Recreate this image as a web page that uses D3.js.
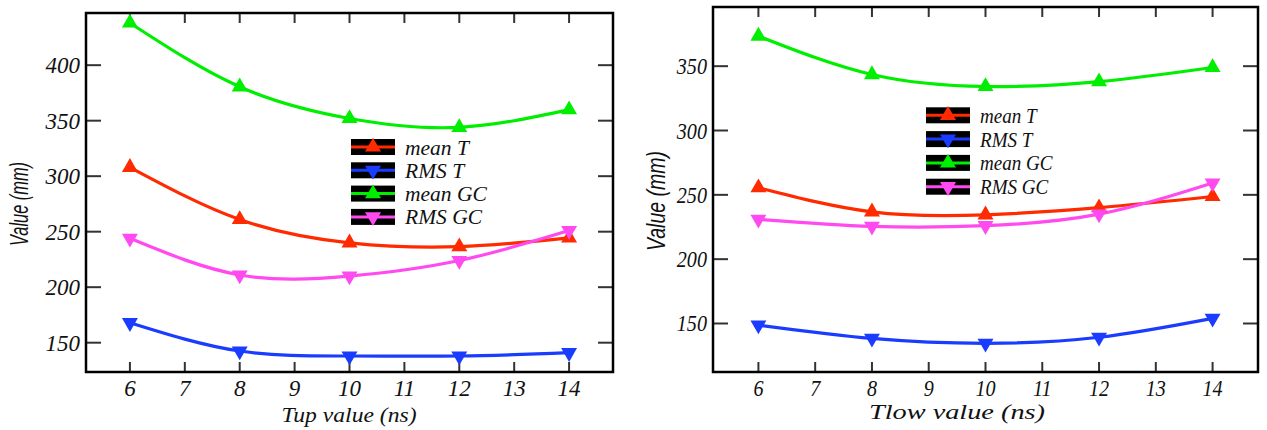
<!DOCTYPE html>
<html>
<head>
<meta charset="utf-8">
<script src="https://cdn.jsdelivr.net/npm/d3@7"></script>
<style>
  html, body { margin: 0; padding: 0; background: #fff; }
  svg { display: block; }
  .serif { font-family: "Liberation Serif", "Times New Roman", "DejaVu Serif", serif; font-style: italic; }
  .sans { font-family: "Liberation Sans", "DejaVu Sans", Arial, sans-serif; font-style: italic; }
</style>
</head>
<body>
<svg id="chart" width="1267" height="430"></svg>
<script>
// ---------------- data ----------------
const xValues = [6, 8, 10, 12, 14];
const xTickLabels = [6, 7, 8, 9, 10, 11, 12, 13, 14];
const seriesNames = ["mean T", "RMS T", "mean GC", "RMS GC"];

// Left panel: Tup
const tupMeanT  = [308, 261, 240, 236.5, 244.5];
const tupRmsT   = [168, 142.5, 138, 138, 141];
const tupMeanGC = [438, 380.5, 352, 344, 360];
const tupRmsGC  = [244, 211, 210, 224, 251];
const tupYTicks = [150, 200, 250, 300, 350, 400];

// Right panel: Tlow
const tlowMeanT  = [255.6, 236.8, 234.5, 240, 248.7];
const tlowRmsT   = [148.8, 138.4, 134.6, 139.3, 154];
const tlowMeanGC = [373.4, 343.5, 334.2, 338, 349];
const tlowRmsGC  = [231, 225.5, 226, 235, 259.2];
const tlowYTicks = [150, 200, 250, 300, 350];

// ---------------- styles ----------------
const colors = ["#ff2a00", "#1a3cff", "#00ee00", "#ff4af0"];
const markerUp = [true, false, true, false];

const svg = d3.select("#chart");

const panels = [
  {
    left: 86, top: 13, right: 613, bottom: 372,
    yDomain: [123.6, 447], yTicks: tupYTicks,
    series: [tupMeanT, tupRmsT, tupMeanGC, tupRmsGC],
    xTitle: "Tup value (ns)", xTitleX: 349, xTitleY: 422, xTitleLen: 135,
    yTitleX: 19, yTitleY: 204, yTitleLen: 84,
    legendX: 351, legendY: 147, legendStep: 23.3,
    sx: 1, fs: 23, lfs: 21.5, lsx: 1
  },
  {
    left: 713, top: 7, right: 1258, bottom: 372,
    yDomain: [112.3, 396], yTicks: tlowYTicks,
    series: [tlowMeanT, tlowRmsT, tlowMeanGC, tlowRmsGC],
    xTitle: "Tlow value (ns)", xTitleX: 957, xTitleY: 419, xTitleLen: 176,
    yTitleX: 656, yTitleY: 201, yTitleLen: 100,
    legendX: 926, legendY: 115.3, legendStep: 23.8,
    sx: 0.84, fs: 24, lfs: 20.5, lsx: 0.93
  }
];

function stretchedText(g, x, y, str, opts) {
  return g.append("text")
    .attr("class", "serif")
    .attr("transform", `translate(${x},${y}) scale(${opts.sx},1)`)
    .style("font-size", opts.fs + "px")
    .attr("text-anchor", opts.anchor || "start")
    .attr("fill", "#111")
    .text(str);
}

panels.forEach(p => {
  const g = svg.append("g");
  const x = d3.scaleLinear().domain([5.2, 14.8]).range([p.left, p.right]);
  const y = d3.scaleLinear().domain(p.yDomain).range([p.bottom, p.top]);

  const tickColor = "#333";
  xTickLabels.forEach(v => {
    g.append("line").attr("x1", x(v)).attr("x2", x(v))
      .attr("y1", p.bottom).attr("y2", p.bottom - 10)
      .attr("stroke", tickColor).attr("stroke-width", 2);
    g.append("line").attr("x1", x(v)).attr("x2", x(v))
      .attr("y1", p.top).attr("y2", p.top + 10)
      .attr("stroke", tickColor).attr("stroke-width", 2);
    stretchedText(g, x(v), p.bottom + 24, String(v), {sx: p.sx, fs: p.fs, anchor: "middle"});
  });
  p.yTicks.forEach(v => {
    g.append("line").attr("x1", p.left).attr("x2", p.left + 15)
      .attr("y1", y(v)).attr("y2", y(v))
      .attr("stroke", tickColor).attr("stroke-width", 2);
    g.append("line").attr("x1", p.right).attr("x2", p.right - 15)
      .attr("y1", y(v)).attr("y2", y(v))
      .attr("stroke", tickColor).attr("stroke-width", 2);
    stretchedText(g, p.left - 6, y(v) + 8, String(v), {sx: p.sx, fs: p.fs, anchor: "end"});
  });

  g.append("rect")
    .attr("x", p.left).attr("y", p.top)
    .attr("width", p.right - p.left).attr("height", p.bottom - p.top)
    .attr("fill", "none").attr("stroke", "#000").attr("stroke-width", 2.5);

  const line = d3.line().x(d => x(d[0])).y(d => y(d[1])).curve(d3.curveNatural);
  p.series.forEach((vals, i) => {
    const pts = xValues.map((xv, j) => [xv, vals[j]]);
    g.append("path").datum(pts)
      .attr("d", line)
      .attr("fill", "none")
      .attr("stroke", colors[i])
      .attr("stroke-width", 3.2);
  });
  const sym = d3.symbol().type(d3.symbolTriangle).size(110);
  p.series.forEach((vals, i) => {
    xValues.forEach((xv, j) => {
      g.append("path")
        .attr("d", sym())
        .attr("transform", `translate(${x(xv)},${y(vals[j])}) rotate(${markerUp[i] ? 0 : 180})`)
        .attr("fill", colors[i]);
    });
  });

  seriesNames.forEach((name, i) => {
    const ly = p.legendY + i * p.legendStep;
    g.append("rect").attr("x", p.legendX).attr("y", ly - 8)
      .attr("width", 44).attr("height", 16).attr("fill", "#000");
    g.append("line").attr("x1", p.legendX).attr("x2", p.legendX + 44)
      .attr("y1", ly).attr("y2", ly)
      .attr("stroke", colors[i]).attr("stroke-width", 3);
    g.append("path")
      .attr("d", sym())
      .attr("transform", `translate(${p.legendX + 22},${ly}) rotate(${markerUp[i] ? 0 : 180})`)
      .attr("fill", colors[i]);
    stretchedText(g, p.legendX + 54, ly + 7.5, name, {sx: p.lsx, fs: p.lfs});
  });

  g.append("text")
    .attr("class", "serif")
    .attr("x", p.xTitleX).attr("y", p.xTitleY)
    .style("font-size", "22px").attr("text-anchor", "middle")
    .attr("textLength", p.xTitleLen).attr("lengthAdjust", "spacingAndGlyphs")
    .attr("fill", "#111")
    .text(p.xTitle);
  g.append("text")
    .attr("class", "sans")
    .attr("transform", `translate(${p.yTitleX + 9},${p.yTitleY}) rotate(-90)`)
    .style("font-size", "26px").attr("text-anchor", "middle")
    .attr("textLength", p.yTitleLen).attr("lengthAdjust", "spacingAndGlyphs")
    .attr("fill", "#111")
    .text("Value (mm)");
});
</script>
</body>
</html>
